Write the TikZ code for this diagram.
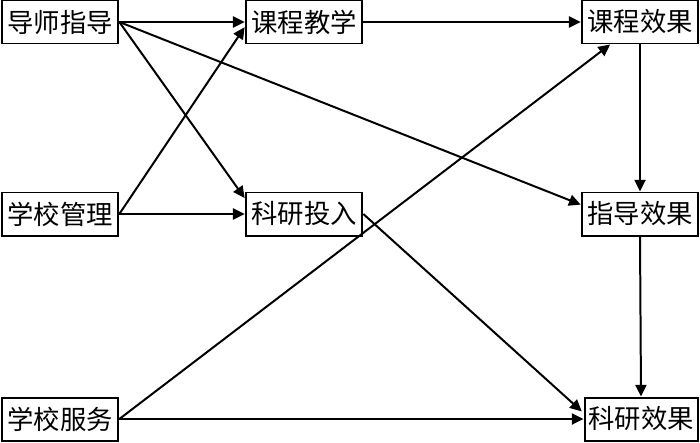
\documentclass[tikz,border=0pt]{standalone}
\usepackage{fontspec}
\newfontfamily\cjk{Noto Sans CJK SC}
\usetikzlibrary{arrows.meta}

\begin{document}
\begin{tikzpicture}[x=0.03cm,y=-0.03cm,
		box/.style={draw,line width=1.7pt,minimum width=3.5cm,minimum height=1.29cm,inner sep=0pt,font=\cjk\fontsize{22.5pt}{22.5pt}\selectfont},
		link/.style={line width=1.7pt,-{Triangle[length=10pt,width=9.5pt]}}]
		% Frame
		\useasboundingbox (0,0) rectangle (700,442);
		
		% Inputs
		\node[box] (dszd) at (60,22) {导师指导};
		\node[box] (xxgl) at (60,214) {学校管理};
		\node[box] (xxfw) at (60,419) {学校服务};
		
		% Middle
		\node[box] (kcjx) at (304,22) {课程教学};
		\node[box] (kytr) at (304,214) {科研投入};
		
		% Outcomes
		\node[box] (kcxg) at (640,22) {课程效果};
		\node[box] (zdxg) at (640,214) {指导效果};
		\node[box,minimum width=3.39cm] (kyxg) at (641,419) {科研效果};
		
		% Arrows from inputs
		\draw[link] (dszd.east) -- (kcjx.west);
		\draw[link] (dszd.east) -- (kytr.165);
		\draw[link] (dszd.east) -- (zdxg.171);
		\draw[link] (xxgl.east) -- (kcjx.185);
		\draw[link] (xxgl.east) -- (kytr.west);
		\draw[link] (xxfw.east) -- (kcxg.217);
		\draw[link] (xxfw.east) -- (kyxg.west);
		
		% Arrows to outcomes
		\draw[link] (kcjx.east) -- (kcxg.west);
		\draw[link,shorten >=2pt] (kytr.east) -- (kyxg.174);
		\draw[link] (kcxg.south) -- (zdxg.north);
		\draw[link] (zdxg.south) -- (kyxg.north);
		
	\end{tikzpicture}
\end{document}
